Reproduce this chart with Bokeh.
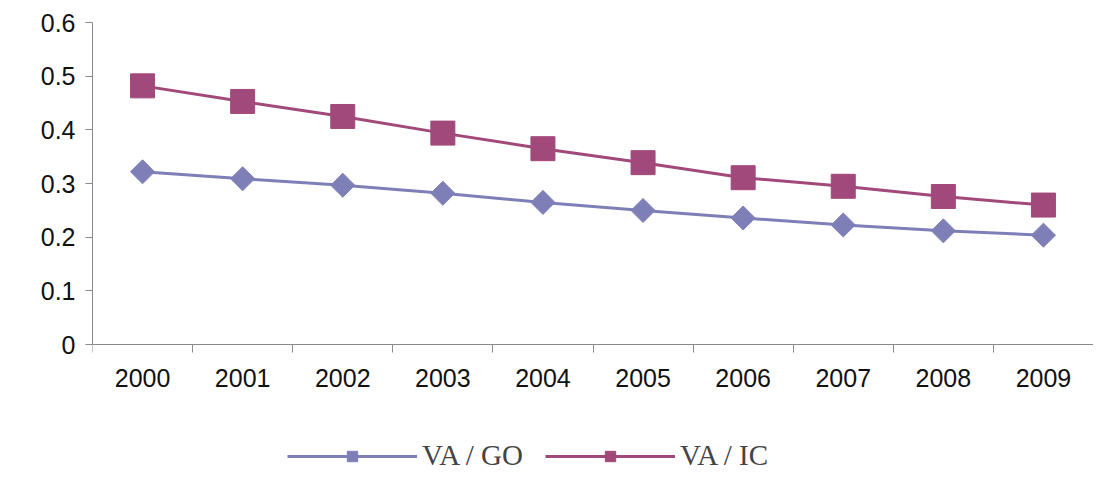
import math

from bokeh.embed import file_html
from bokeh.resources import INLINE
from bokeh.plotting import figure
from bokeh.models import FixedTicker, Legend, LegendItem

years = ["2000", "2001", "2002", "2003", "2004", "2005", "2006", "2007", "2008", "2009"]
va_go = [0.322, 0.309, 0.297, 0.282, 0.265, 0.250, 0.236, 0.223, 0.212, 0.204]
va_ic = [0.482, 0.453, 0.425, 0.394, 0.365, 0.339, 0.311, 0.295, 0.276, 0.260]

xs = [i + 0.5 for i in range(len(years))]

p = figure(width=1093, height=472, x_range=(0, 10), y_range=(-0.238, 0.6),
           output_backend="svg", toolbar_location=None,
           min_border_left=92, min_border_top=22, min_border_right=0, min_border_bottom=0)
p.outline_line_color = None
p.grid.grid_line_color = None

font = "Liberation Sans"
p.xaxis.fixed_location = 0
p.xaxis.ticker = FixedTicker(ticks=xs, minor_ticks=list(range(11)))
p.xaxis.major_label_overrides = {x: y for x, y in zip(xs, years)}
p.xaxis.major_tick_out = 0
p.xaxis.major_tick_in = 0
p.xaxis.minor_tick_out = 8
p.xaxis.minor_tick_in = 0
p.yaxis.ticker = FixedTicker(ticks=[0, 0.1, 0.2, 0.3, 0.4, 0.5, 0.6])
p.yaxis.bounds = (0, 0.6)
p.yaxis.major_label_overrides = {0: "0"}
p.yaxis.major_tick_out = 7
p.yaxis.major_tick_in = 0
p.yaxis.minor_tick_out = 0
for ax in (p.xaxis, p.yaxis):
    ax.axis_line_color = "#8a8a8a"
    ax.major_tick_line_color = "#8a8a8a"
    ax.minor_tick_line_color = "#8a8a8a"
    ax.major_label_text_font = font
    ax.major_label_text_font_size = "25px"
    ax.major_label_text_color = "#111111"
p.xaxis.major_label_standoff = 16
p.yaxis.major_label_standoff = 10

c1, c2 = "#7f7fb8", "#a2497b"
l1 = p.line(xs, va_go, line_color=c1, line_width=3)
m1 = p.scatter(xs, va_go, marker="square", size=17, angle=math.pi / 4,
               fill_color=c1, line_color=c1)
l2 = p.line(xs, va_ic, line_color=c2, line_width=3)
m2 = p.scatter(xs, va_ic, marker="square", size=24, fill_color=c2, line_color=c2)

legend = Legend(items=[LegendItem(label="VA / GO", renderers=[l1, m1]),
                       LegendItem(label="VA / IC", renderers=[l2, m2])],
                orientation="horizontal", location=(195, 0),
                label_text_font="Liberation Serif", label_text_font_size="29px",
                glyph_width=130, glyph_height=26, spacing=22, padding=1,
                border_line_color=None, background_fill_alpha=0, margin=0)
p.add_layout(legend)

open("out.html", "w").write(file_html(p, INLINE))
